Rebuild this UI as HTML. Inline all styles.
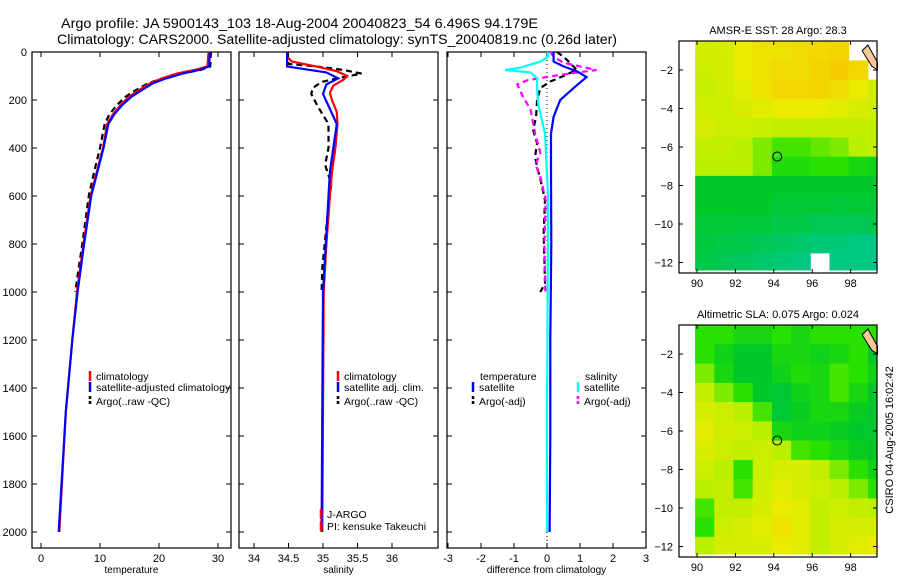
<!DOCTYPE html>
<html><head><meta charset="utf-8"><style>
body{margin:0;background:#fff;}
svg{display:block;font-family:"Liberation Sans",sans-serif;}
</style></head><body>
<svg id="c" width="900" height="580" viewBox="0 0 900 580">
<text x="61" y="28" font-size="14" textLength="477" lengthAdjust="spacingAndGlyphs">Argo profile: JA 5900143_103 18-Aug-2004 20040823_54 6.496S 94.179E</text>
<text x="57" y="44" font-size="14" textLength="560" lengthAdjust="spacingAndGlyphs">Climatology: CARS2000. Satellite-adjusted climatology: synTS_20040819.nc (0.26d later)</text>
<text x="778" y="34" font-size="11" text-anchor="middle">AMSR-E SST: 28 Argo: 28.3</text>
<text x="778" y="318" font-size="11" text-anchor="middle">Altimetric SLA: 0.075 Argo: 0.024</text>
<text transform="translate(893,440) rotate(-90)" font-size="11" text-anchor="middle">CSIRO 04-Aug-2005 16:02:42</text>
</svg>
<script>
// ---- data ----
const tDepth=[0,60,75,90,110,130,160,185,220,260,300,400,600,800,1000,1200,1500,2000];
const tClim=[28.4,28.2,26,23,20.5,18.5,16.5,15,13.5,12.2,11.2,10.5,8.4,7.2,6.1,5.3,4.2,3.1];
const tSat=[28.6,28.5,26.8,24,21.2,19,17,15.4,13.8,12.4,11.4,10.6,8.5,7.3,6.2,5.3,4.2,3.0];
const tArgoDepth=[0,60,75,90,110,130,160,185,220,260,300,400,500,600,800,1000];
const tArgo=[28.8,28.7,27,23.8,20.6,18.2,16,14.4,12.9,11.6,10.8,10,9,8.1,7,5.8];
const sDepth=[0,20,40,60,80,100,115,140,170,200,250,300,400,500,600,800,1000,1500,2000];
const sClim=[34.48,34.48,34.55,34.9,35.2,35.35,35.3,35.15,35.1,35.13,35.2,35.21,35.18,35.13,35.1,35.05,35.01,35.0,34.99];
const sSatDepth=[0,60,70,85,110,135,175,250,300,400,500,600,800,1000,1500,2000];
const sSat=[34.48,34.48,34.7,35.05,35.22,35.05,35.0,35.12,35.2,35.15,35.1,35.08,35.04,35.0,34.99,34.98];
const sArgoDepth=[0,50,60,75,90,110,125,150,175,230,300,400,470,550,700,900,1000];
const sArgo=[34.48,34.5,34.9,35.3,35.56,35.2,34.98,34.85,34.83,34.93,35.08,35.08,35.03,35.12,35.06,34.99,34.98];
const dTSatDepth=[0,40,60,80,104,145,200,270,340,500,800,1200,1600,2000];
const dTSat=[0.2,0.2,0.5,0.9,1.2,0.85,0.4,0.2,0.12,0.12,0.13,0.1,0.1,0.08];
const dSSatDepth=[0,20,40,65,75,85,110,150,215,340,600,1000,1500,2000];
const dSSat=[0.03,0.03,-0.2,-0.8,-1.27,-0.5,-0.3,-0.3,-0.27,-0.06,0.03,0.02,0.0,0.0];
const dTArgoDepth=[0,20,45,75,100,123,150,200,270,325,380,436,480,530,617,756,964,1000];
const dTArgo=[0.3,0.5,0.7,0.9,0.5,0.1,-0.2,-0.3,-0.33,-0.42,-0.3,-0.36,-0.3,-0.2,-0.06,-0.1,-0.06,-0.2];
const dSArgoDepth=[0,20,45,75,95,118,135,180,240,340,420,470,520,617,800,1000];
const dSArgo=[0.1,0.2,0.5,1.5,0.4,-0.6,-0.9,-0.75,-0.5,-0.36,-0.2,-0.35,-0.2,-0.04,-0.08,-0.05];
const depthTicks=[0,200,400,600,800,1000,1200,1400,1600,1800,2000];
const tTicks=[0,10,20,30];
const sTicks=[34,34.5,35,35.5,36];
const sTickLabels=["34","34.5","35","35.5","36"];
const dTicks=[-3,-2,-1,0,1,2,3];
const lonTicks=[90,92,94,96,98];
const latTicks=[-2,-4,-6,-8,-10,-12];
const sstGrid=[
[2.5,2.6,3,3.2,3.2,3.4,3.5,3.6,null,null],
[2.4,2.5,3,3.2,3.4,3.4,3.6,3.8,3.5,null],
[2.3,2.5,2.8,3.2,3.5,3.5,3.6,3.4,3,2.5],
[2.5,2.4,2.6,2.8,3,3,3,2.8,2.6,2.4],
[2.6,2.4,2.4,2.3,2.2,2.2,2.2,2.2,2.2,2.2],
[2.2,2.2,2,1.8,1.6,1.6,1.7,1.8,2,2.2],
[2,2,2,1.8,1.4,1.4,1.5,1.5,1.3,1.2],
[1,1,1,1,1,1,1,1,1,1],
[1,1,1,1,0.9,0.9,0.9,0.8,0.9,0.9],
[0.9,0.9,0.8,0.8,0.7,0.7,0.6,0.6,0.6,0.7],
[0.8,0.7,0.7,0.6,0.5,0.4,0.3,0.3,0.2,0.2],
[0.7,0.6,0.5,0.4,0.3,0.2,null,0.2,0.2,0.1]];
const slaGrid=[
[1.5,1.5,1.3,1.3,1.5,1.3,1.5,1.5,1.5,1.5],
[1.5,1.2,1,1,1.3,1.3,1.2,1.3,1.5,1],
[1.8,1.3,1,1,1.2,1.4,1.3,1.6,1.5,1.2],
[2.2,1.8,1.5,1,0.9,1.2,1.3,1.6,1.3,1],
[2.6,2.4,2,1.6,0.9,1.1,1.3,1.3,1.1,0.9],
[2.8,2.5,2.4,2,1.3,1.2,1.2,1.1,1,0.9],
[2.6,2.4,2.2,2.4,2,1.6,1.5,1.3,1.1,1],
[2.4,2,1.5,2.4,2.6,2.6,2.2,1.8,1.5,1.2],
[2,2.2,1.6,2.5,2.8,2.6,2.4,2,1.8,1.5],
[1.6,2.2,2.2,2.6,3,2.8,2.2,2.4,2.2,2],
[1.5,2.4,2.6,2.8,3.2,2.8,2.2,2.6,2.6,2.6],
[2,2.6,2.6,2.6,3,2.8,2.2,2.6,2.8,3]];
const argoLon=94.179, argoLat=-6.496;

// ---- helpers ----
const svg=document.getElementById('c');
const NS='http://www.w3.org/2000/svg';
function mk(tag,attrs,parent){const e=document.createElementNS(NS,tag);for(const k in attrs)e.setAttribute(k,attrs[k]);(parent||svg).appendChild(e);return e;}
function txt(x,y,s,size,anchor){const e=mk('text',{x:x,y:y,'font-size':size,'text-anchor':anchor||'start'});e.textContent=s;return e;}
const yD=d=>52+d*0.24;
const xT=t=>41+t*5.9;
const xS=s=>254+(s-34)*69;
const xDf=d=>547+d*33;

function frame(x0,x1,y0,y1,name){
  const r=mk('rect',{x:x0,y:y0,width:x1-x0,height:y1-y0,fill:'none',stroke:'#000','stroke-width':1.2});
  
  
}
function line(xs,ds,xf,color,dash,name){
  const pts=xs.map((v,i)=>xf(v).toFixed(1)+','+yD(ds[i]).toFixed(1)).join(' ');
  const p=mk('polyline',{points:pts,fill:'none',stroke:color,'stroke-width':2.2,'stroke-dasharray':dash||'none'});
  
  
}
function panel(x0,x1,ticks,labels,xf,xlabel,name,showY){
  frame(x0,x1,52,548,name+'-frame');
  depthTicks.forEach(d=>{
    mk('line',{x1:x0,x2:x0+5,y1:yD(d),y2:yD(d),stroke:'#000'});
    mk('line',{x1:x1-5,x2:x1,y1:yD(d),y2:yD(d),stroke:'#000'});
    if(showY){const t=txt(27,yD(d)+4,String(d),11,'end');}
  });
  ticks.forEach((v,i)=>{
    const x=xf(v);
    mk('line',{x1:x,x2:x,y1:52,y2:57,stroke:'#000'});
    mk('line',{x1:x,x2:x,y1:543,y2:548,stroke:'#000'});
    const t=txt(x,562,labels[i],11,'middle');
    
    
  });
  const l=txt((x0+x1)/2,573,xlabel,10,'middle');
  
  
}
function legendRow(x,y,color,label,dash){
  const l=mk('line',{x1:x,x2:x,y1:y-9,y2:y+1,stroke:color,'stroke-width':2.5,'stroke-dasharray':dash||'none'});
  
  
  const t=txt(x+6,y,label,10.5);
  
  
}

// ---- profile panels ----
panel(32,231,tTicks,tTicks.map(String),xT,'temperature','temperature-panel',true);
panel(239,438,sTicks,sTickLabels,xS,'salinity','salinity-panel',false);
panel(447,646,dTicks,dTicks.map(String),xDf,'difference from climatology','difference-panel',false);

line(tArgo,tArgoDepth,xT,'#000','6,4','temperature-argo-line');
line(tClim,tDepth,xT,'#f00',null,'temperature-climatology-line');
line(tSat,tDepth,xT,'#00f',null,'temperature-satellite-line');

line(sArgo,sArgoDepth,xS,'#000','6,4','salinity-argo-line');
line(sClim,sDepth,xS,'#f00',null,'salinity-climatology-line');
line(sSat,sSatDepth,xS,'#00f',null,'salinity-satellite-line');

const zl=mk('line',{x1:xDf(0),x2:xDf(0),y1:52,y2:548,stroke:'#000','stroke-dasharray':'1,3'});


line(dTArgo,dTArgoDepth,xDf,'#000','6,4','temp-diff-argo-line');
line(dSArgo,dSArgoDepth,xDf,'#f0f','6,4','sal-diff-argo-line');
line(dSSat,dSSatDepth,xDf,'#0ff',null,'sal-diff-satellite-line');
line(dTSat,dTSatDepth,xDf,'#00f',null,'temp-diff-satellite-line');

legendRow(90,380,'#f00','climatology');
legendRow(90,391,'#00f','satellite-adjusted climatology');
legendRow(90,405,'#000','Argo(..raw -QC)','3,2');
legendRow(338,380,'#f00','climatology');
legendRow(338,391,'#00f','satellite adj. clim.');
legendRow(338,405,'#000','Argo(..raw -QC)','3,2');
{const t=txt(480,380,'temperature',10.5);}
legendRow(473,391,'#00f','satellite');
legendRow(473,405,'#000','Argo(-adj)','3,2');
{const t=txt(585,380,'salinity',10.5);}
legendRow(578,391,'#0ff','satellite');
legendRow(578,405,'#f0f','Argo(-adj)','3,2');
legendRow(321,518,'#f00','J-ARGO');
legendRow(321,530,'#f00','PI: kensuke Takeuchi');

// ---- maps ----
const stops=[[0,[0,200,150]],[1,[0,200,40]],[1.5,[40,225,0]],[2,[184,240,0]],[3,[235,235,0]],[4,[248,196,0]]];
function col(v){
  for(let i=1;i<stops.length;i++){if(v<=stops[i][0]||i==stops.length-1){
    const a=stops[i-1],b=stops[i];let f=(v-a[0])/(b[0]-a[0]);f=Math.max(0,Math.min(1,f));
    return 'rgb('+a[1].map((c,k)=>Math.round(c+(b[1][k]-c)*f)).join(',')+')';}}
}
function map(grid,y0,name){
  const X=lon=>697+(lon-90)*19.2;
  const Y=lat=>y0+(-2-lat)*19.25;
  const top=y0-29, bot=y0+203;
  const g=mk('g',{});
  
  
  grid.forEach((row,i)=>row.forEach((v,j)=>{
    if(v===null)return;
    const x=X(89.9+j), xe=Math.min(X(90.9+j),877);
    const y=Y(-0.5-i), ye=Math.min(Y(-1.5-i),bot-3);
    const r=mk('rect',{x:x.toFixed(1),y:Math.max(y,top).toFixed(1),width:(xe-x+0.5).toFixed(1),height:(ye-Math.max(y,top)+0.5).toFixed(1),fill:col(v)},g);
    
    
  }));
  const land=mk('path',{d:`M${X(98.6)},${Y(-1)} L${X(98.9)},${Y(-0.7)} L${X(99.4)},${Y(-1.6)} L${X(99.4)},${Y(-2)} L${X(99.1)},${Y(-1.8)} Z`,fill:'#f8c898',stroke:'#000','stroke-width':1});
  
  
  frame(679,877,top,bot,name+'-frame');
  lonTicks.forEach(l=>{
    mk('line',{x1:X(l),x2:X(l),y1:top,y2:top+4,stroke:'#000'});
    mk('line',{x1:X(l),x2:X(l),y1:bot-4,y2:bot,stroke:'#000'});
    const t=txt(X(l),bot+14,String(l),11,'middle');
    
    
  });
  latTicks.forEach(l=>{
    mk('line',{x1:679,x2:683,y1:Y(l),y2:Y(l),stroke:'#000'});
    mk('line',{x1:873,x2:877,y1:Y(l),y2:Y(l),stroke:'#000'});
    const t=txt(673,Y(l)+4,'\u2212'+Math.abs(l),11,'end');
    
    
  });
  const c=mk('circle',{cx:X(argoLon),cy:Y(argoLat),r:4.5,fill:'none',stroke:'#000','stroke-width':1});
  
  
}
map(sstGrid,70,'sst-map');
map(slaGrid,354,'sla-map');
</script>
</body></html>
